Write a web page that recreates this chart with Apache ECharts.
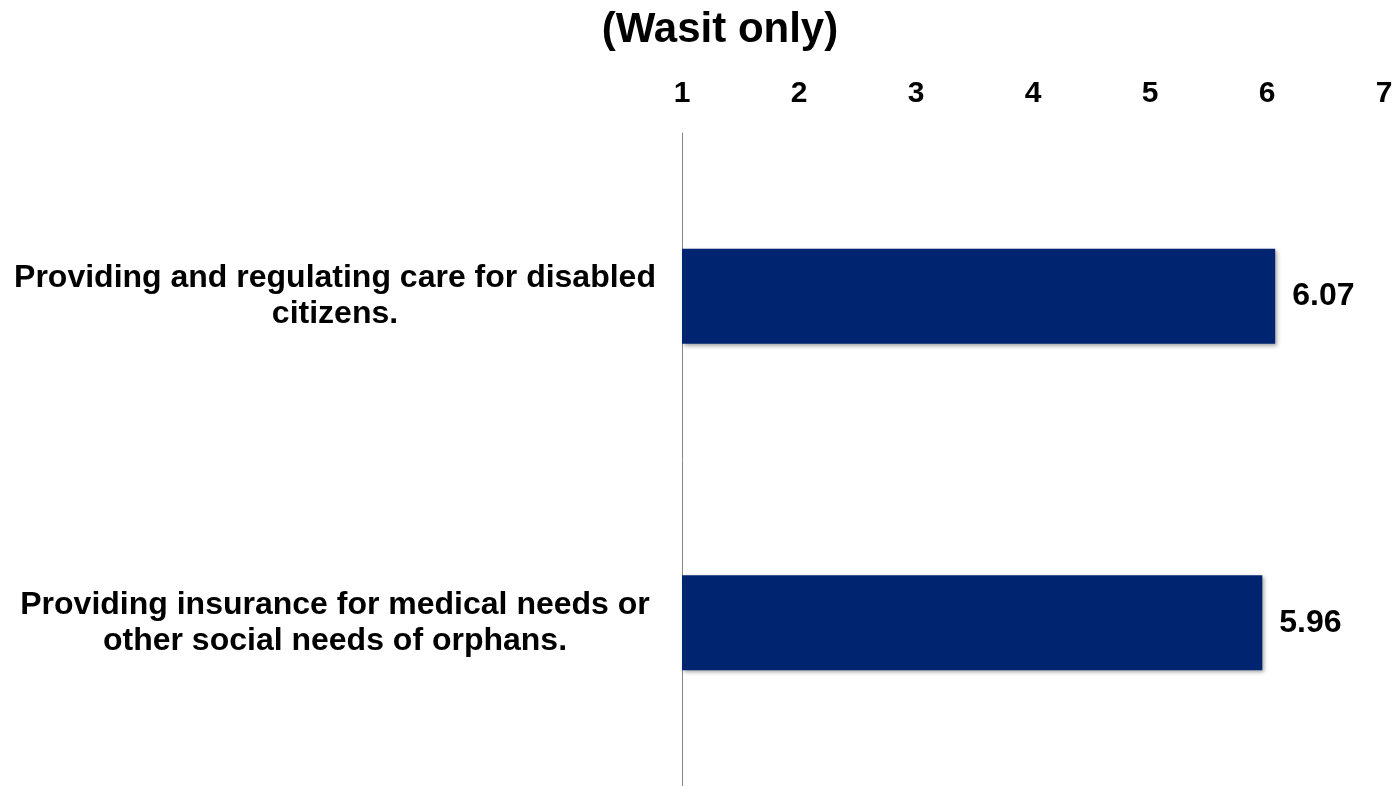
<!DOCTYPE html>
<html>
<head>
<meta charset="utf-8">
<script src="https://cdn.jsdelivr.net/npm/echarts@6/dist/echarts.min.js"></script>
<style>html,body{margin:0;padding:0;background:#fff;}#c{width:1398px;height:786px;}</style>
</head>
<body>
<div id="c"></div>
<script>
var titleText = '(Wasit only)';
var categories = [
  'Providing and regulating care for disabled\ncitizens.',
  'Providing insurance for medical needs or\nother social needs of orphans.'
];
var values = [6.07, 5.96];
var xTicks = [1, 2, 3, 4, 5, 6, 7];

var FONT = 'Liberation Sans, Arial, sans-serif';
var chart = echarts.init(document.getElementById('c'));
chart.setOption({
  animation: false,
  backgroundColor: '#ffffff',
  title: {
    text: titleText,
    left: 715, top: 4,
    textAlign: 'center',
    textStyle: { fontFamily: FONT, fontSize: 42, fontWeight: 'bold', color: '#000' }
  },
  grid: { left: 682, right: 14, top: 133, height: 656, containLabel: false },
  xAxis: {
    type: 'value', position: 'top',
    min: xTicks[0], max: xTicks[xTicks.length - 1], interval: 1,
    axisLine: { show: false }, axisTick: { show: false }, splitLine: { show: false },
    axisLabel: { margin: 24, fontFamily: FONT, fontSize: 30, fontWeight: 'bold', color: '#000' }
  },
  yAxis: {
    type: 'category', inverse: true, data: categories,
    axisLine: { show: true, lineStyle: { color: '#888888', width: 1 } },
    axisTick: { show: false },
    axisLabel: {
      margin: 347, align: 'center', lineHeight: 36,
      fontFamily: FONT, fontSize: 32, fontWeight: 'bold', color: '#000'
    }
  },
  series: [{
    type: 'bar', data: values, barWidth: 95,
    itemStyle: { color: '#002470', shadowColor: 'rgba(0,0,0,0.35)', shadowBlur: 4, shadowOffsetX: 2, shadowOffsetY: 2 },
    label: {
      show: true, position: 'right', distance: 17,
      formatter: function (p) { return p.value.toFixed(2); },
      fontFamily: FONT, fontSize: 32, fontWeight: 'bold', color: '#000'
    }
  }]
});
</script>
</body>
</html>
